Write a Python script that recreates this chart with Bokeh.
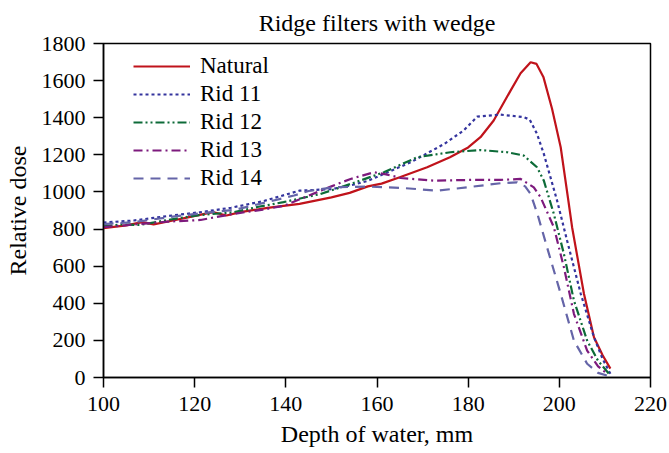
from bokeh.plotting import figure
from bokeh.models import Range1d, Legend, LegendItem
from bokeh.embed import file_html
from bokeh.resources import INLINE

FONT = "Liberation Serif"

natural_x = [100, 105, 108.5, 111, 115, 118.5, 124, 127, 130, 136, 143, 150, 154, 158, 161, 165, 171, 176, 180, 182.7, 185.6, 189.3, 191.5, 193.7, 195, 196.5, 198.4, 200.3, 202, 202.8, 205.4, 207.6, 209.5, 211.2]
natural_y = [805, 820, 837, 825, 845, 863, 891, 873, 891, 914, 936, 971, 995, 1030, 1045, 1079, 1133, 1187, 1240, 1295, 1385, 1546, 1640, 1699, 1690, 1620, 1448, 1241, 950, 810, 451, 217, 120, 48]

rid11_x = [100, 106.6, 114, 121.3, 128, 135, 143, 150, 155, 158, 161.5, 167.4, 174.7, 179, 182, 187, 192.2, 193.5, 195.1, 196.6, 199.5, 201.7, 204.7, 207.6, 209.5, 211.2]
rid11_y = [835, 846, 870, 891, 915, 950, 1007, 1015, 1040, 1060, 1097, 1160, 1258, 1331, 1406, 1417, 1403, 1390, 1313, 1205, 954, 738, 451, 217, 100, 20]

rid12_x = [100, 104, 108, 114, 121, 128.6, 134, 139.5, 147.6, 154.2, 161.5, 168.8, 176.1, 182.7, 188.6, 192.2, 195.1, 196.6, 198.8, 201, 203.2, 206.1, 208.5, 211.2]
rid12_y = [815, 825, 822, 849, 875, 891, 920, 945, 989, 1043, 1106, 1187, 1214, 1226, 1214, 1196, 1133, 1061, 881, 666, 415, 199, 90, 11]

rid13_x = [100, 107, 114, 121.3, 128.6, 135, 139.5, 143.2, 150, 154.2, 159.3, 162, 165.2, 172.5, 181.2, 187.1, 191.5, 194.4, 195.9, 198.8, 201, 203.2, 206.1, 208.5, 210.5]
rid13_y = [810, 825, 840, 849, 882, 905, 925, 962, 1030, 1070, 1106, 1095, 1075, 1061, 1065, 1065, 1070, 1025, 971, 810, 594, 343, 145, 60, 20]

rid14_x = [100, 106.6, 114, 121.3, 128.6, 135.9, 141.8, 145, 150.5, 157.9, 165.2, 173.2, 179.8, 187.1, 190.7, 192.5, 193.7, 195.2, 197.3, 200.3, 203.2, 206.1, 208.5, 210.5]
rid14_y = [827, 837, 863, 885, 903, 945, 981, 1005, 1025, 1029, 1022, 1007, 1025, 1047, 1052, 1030, 989, 881, 702, 451, 199, 74, 25, 10]

x_ticks = [100, 120, 140, 160, 180, 200, 220]
y_ticks = [0, 200, 400, 600, 800, 1000, 1200, 1400, 1600, 1800]

p = figure(width=669, height=453, output_backend="svg", toolbar_location=None,
           x_range=Range1d(100, 220), y_range=Range1d(0, 1800),
           title="Ridge filters with wedge")
p.min_border_left = 103
p.min_border_right = 19
p.min_border_top = 43
p.min_border_bottom = 76

p.title.align = "center"
p.title.text_font = FONT
p.title.text_font_size = "24px"
p.title.text_font_style = "normal"
p.title.text_color = "black"
p.title.standoff = 15

p.grid.visible = False
p.outline_line_color = "black"
p.outline_line_width = 1.5
p.background_fill_color = "white"
p.border_fill_color = "white"

for ax in (p.xaxis[0], p.yaxis[0]):
    ax.major_label_text_font = FONT
    ax.major_label_text_font_size = "22px"
    ax.major_label_text_color = "black"
    ax.axis_label_text_font = FONT
    ax.axis_label_text_font_size = "24px"
    ax.axis_label_text_font_style = "normal"
    ax.axis_label_text_color = "black"
    ax.minor_tick_line_color = None
    ax.major_tick_in = 0
    ax.major_tick_out = 10
    ax.major_tick_line_width = 1.5
    ax.axis_line_width = 1.5

p.xaxis.major_label_standoff = 9
p.yaxis.major_label_standoff = 8
p.xaxis.ticker = x_ticks
p.yaxis.ticker = y_ticks
p.xaxis.axis_label = "Depth of water, mm"
p.yaxis.axis_label = "Relative dose"
p.xaxis.axis_label_standoff = 7
p.yaxis.axis_label_standoff = 8

r0 = p.line(natural_x, natural_y, line_color="#c0131b", line_width=2.2)
r1 = p.line(rid11_x, rid11_y, line_color="#34349e", line_width=2.2, line_dash="3 3")
r2 = p.line(rid12_x, rid12_y, line_color="#0d6b38", line_width=2.2, line_dash="9 3 2 3 2 3")
r3 = p.line(rid13_x, rid13_y, line_color="#7d1a7d", line_width=2.2, line_dash="9 4 2 4")
r4 = p.line(rid14_x, rid14_y, line_color="#6565a8", line_width=2.2, line_dash="10 7")

legend = Legend(items=[
    LegendItem(label="Natural", renderers=[r0]),
    LegendItem(label="Rid 11", renderers=[r1]),
    LegendItem(label="Rid 12", renderers=[r2]),
    LegendItem(label="Rid 13", renderers=[r3]),
    LegendItem(label="Rid 14", renderers=[r4]),
])
legend.location = (30, 186)
legend.margin = 0
legend.padding = 0
legend.spacing = 2
legend.glyph_width = 57
legend.glyph_height = 20
legend.label_height = 20
legend.label_standoff = 10
legend.label_text_font = FONT
legend.label_text_font_size = "23px"
legend.label_text_color = "black"
legend.border_line_color = None
legend.background_fill_alpha = 0
p.add_layout(legend, "center")

open("out.html", "w").write(file_html(p, INLINE))
